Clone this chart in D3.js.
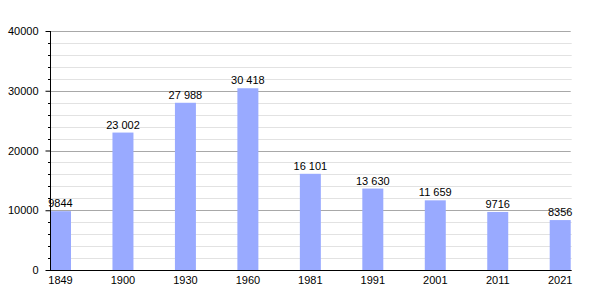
<!DOCTYPE html>
<html>
<head>
<meta charset="utf-8">
<script src="https://cdn.jsdelivr.net/npm/d3@7"></script>
<style>
  body { margin: 0; background: #fff; }
  text { font-family: "Liberation Sans", Arial, sans-serif; font-size: 11px; fill: #000; }
</style>
</head>
<body>
<div id="chart"></div>
<script>
const years = ["1849", "1900", "1930", "1960", "1981", "1991", "2001", "2011", "2021"];
const population = [9844, 23002, 27988, 30418, 16101, 13630, 11659, 9716, 8356];
const yTicks = [0, 10000, 20000, 30000, 40000];

const width = 600, height = 300;
const plotLeft = 50, plotRight = 570.7, plotTop = 31, plotBottom = 270;

const svg = d3.select("#chart")
  .append("svg")
  .attr("width", width)
  .attr("height", height);

const x = d3.scaleBand()
  .domain(years)
  .range([plotLeft, plotRight])
  .paddingInner(0.664)
  .paddingOuter(0);

const y = d3.scaleLinear()
  .domain([0, 40000])
  .range([plotBottom, plotTop]);

// minor grid every 2000
const minor = d3.range(2000, 40000, 2000).filter(v => v % 10000 !== 0);
svg.append("g")
  .selectAll("line")
  .data(minor)
  .join("line")
  .attr("x1", plotLeft).attr("x2", plotRight + 1)
  .attr("y1", d => Math.round(y(d)) + 0.5)
  .attr("y2", d => Math.round(y(d)) + 0.5)
  .attr("stroke", "#e2e2e2");

svg.append("g")
  .selectAll("line")
  .data(yTicks.filter(v => v > 0))
  .join("line")
  .attr("x1", plotLeft).attr("x2", plotRight)
  .attr("y1", d => Math.round(y(d)) + 0.5)
  .attr("y2", d => Math.round(y(d)) + 0.5)
  .attr("stroke", "#a8a8a8");

// bars
svg.append("g")
  .selectAll("rect")
  .data(population)
  .join("rect")
  .attr("x", (d, i) => x(years[i]))
  .attr("y", d => y(d))
  .attr("width", x.bandwidth())
  .attr("height", d => y(0) - y(d))
  .attr("fill", "#99aaff");

// value labels
const fmt = v => v >= 10000 ? d3.format(",")(v).replace(/,/g, " ") : String(v);
svg.append("g")
  .selectAll("text")
  .data(population)
  .join("text")
  .attr("x", (d, i) => x(years[i]) + x.bandwidth() / 2)
  .attr("y", d => y(d) - 4)
  .attr("text-anchor", "middle")
  .text(fmt);

// y axis with major and minor ticks
const yAxis = svg.append("g")
  .attr("transform", `translate(${plotLeft + 0.5},0)`)
  .call(d3.axisLeft(y).tickValues(yTicks).tickSize(5).tickPadding(7).tickFormat(d3.format("d")));
yAxis.select(".domain").remove();
yAxis.selectAll("text").style("font-size", "11px");

svg.append("g")
  .selectAll("line")
  .data(minor)
  .join("line")
  .attr("x1", plotLeft - 2).attr("x2", plotLeft)
  .attr("y1", d => Math.round(y(d)) + 0.5)
  .attr("y2", d => Math.round(y(d)) + 0.5)
  .attr("stroke", "#000");

svg.append("line")
  .attr("x1", plotLeft + 0.5).attr("x2", plotLeft + 0.5)
  .attr("y1", plotTop).attr("y2", plotBottom)
  .attr("stroke", "#000");

// x axis
const xAxis = svg.append("g")
  .attr("transform", `translate(0,${plotBottom})`)
  .call(d3.axisBottom(x).tickSize(0).tickPadding(6));
xAxis.select(".domain").remove();

svg.append("line")
  .attr("x1", plotLeft).attr("x2", plotRight + 1)
  .attr("y1", plotBottom + 0.5).attr("y2", plotBottom + 0.5)
  .attr("stroke", "#000");
</script>
</body>
</html>
